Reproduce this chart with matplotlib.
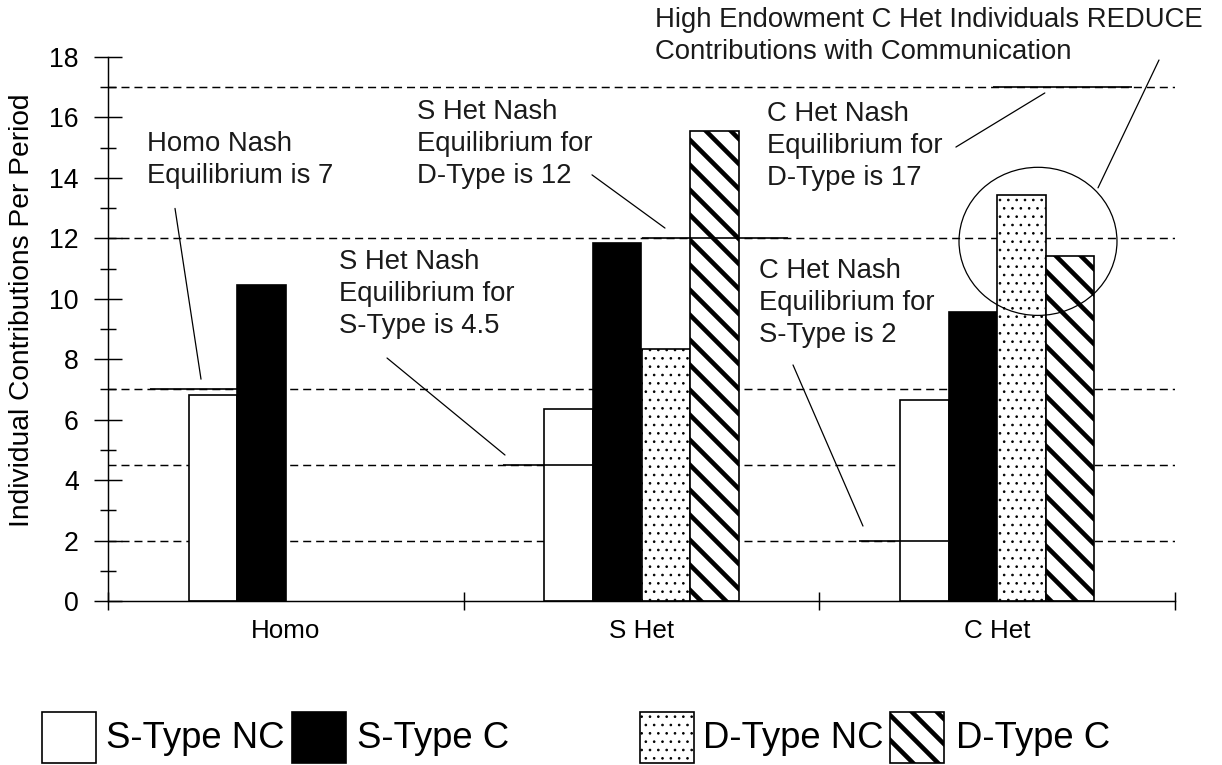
import matplotlib
matplotlib.use("Agg")
import matplotlib.pyplot as plt
from matplotlib.patches import Rectangle, Ellipse
import numpy as np

# ---------------- data ----------------
categories = ["Homo", "S Het", "C Het"]
series_labels = ["S-Type NC", "S-Type C", "D-Type NC", "D-Type C"]
s_type_nc = [6.8, 6.35, 6.65]
s_type_c = [10.45, 11.85, 9.55]
d_type_nc = [np.nan, 8.35, 13.45]
d_type_c = [np.nan, 15.55, 11.4]
nash_levels = [2, 4.5, 7, 12, 17]
y_ticks = list(range(0, 19, 2))
y_label = "Individual Contributions Per Period"

notes = [
    "Homo Nash\nEquilibrium is 7",
    "S Het Nash\nEquilibrium for\nS-Type is 4.5",
    "S Het Nash\nEquilibrium for\nD-Type is 12",
    "C Het Nash\nEquilibrium for\nS-Type is 2",
    "C Het Nash\nEquilibrium for\nD-Type is 17",
    "High Endowment C Het Individuals REDUCE\nContributions with Communication",
]
# Nash value each solid marker segment belongs to
note_levels = [7, 4.5, 12, 2, 17]

# ---------------- layout / style ----------------
W, H, DPI = 1222, 765, 150
plt.rcParams["font.family"] = ["Liberation Sans", "DejaVu Sans"]
plt.rcParams["hatch.color"] = "black"

fig = plt.figure(figsize=(W / DPI, H / DPI), dpi=DPI)
ax = fig.add_axes([108 / W, 1 - 601 / H, 1067 / W, 544 / H])

series = [s_type_nc, s_type_c, d_type_nc, d_type_c]
styles = [
    dict(facecolor="white", hatch=None, hlw=1.0),
    dict(facecolor="black", hatch=None, hlw=1.0),
    dict(facecolor="white", hatch="...", hlw=0.45),
    dict(facecolor="white", hatch="\\\\", hlw=2.2),
]
bw = 0.1364
xc = np.arange(len(categories))
offsets = [-1.5 * bw, -0.5 * bw, 0.5 * bw, 1.5 * bw]


def make_patch_style(p, st):
    if st["hatch"]:
        p.set_hatch(st["hatch"])
        if hasattr(p, "set_hatch_linewidth"):
            p.set_hatch_linewidth(st["hlw"])


for vals, off, st in zip(series, offsets, styles):
    with plt.rc_context({"hatch.linewidth": st["hlw"]}):
        bars = ax.bar(xc + off, vals, width=bw, facecolor=st["facecolor"],
                      edgecolor="black", linewidth=0.8, zorder=2)
        for p in bars:
            make_patch_style(p, st)

# dashed Nash reference lines
for lv in nash_levels:
    ax.axhline(lv, color="black", lw=0.7, dashes=(5.5, 3.4), zorder=1)

# solid Nash segments (x extents are layout)
seg_x = [(-0.382, -0.1345), (0.611, 0.8636), (1.0014, 1.412),
         (1.6115, 1.8617), (1.988, 2.379)]
for lv, (x0, x1) in zip(note_levels, seg_x):
    ax.plot([x0, x1], [lv, lv], color="black", lw=0.8, zorder=3,
            solid_capstyle="butt")

# annotation texts and leader lines
text_pos = [(-0.3903, 15.55), (0.1495, 11.64), (0.3688, 16.61),
            (1.3304, 11.34), (1.3529, 16.54), (1.038, 19.65)]
leaders = [((-0.3116, 12.99), (-0.2385, 7.34)),
           ((0.2845, 8.04), (0.6162, 4.83)),
           ((0.8608, 14.10), (1.066, 12.34)),
           ((1.426, 7.81), (1.6227, 2.48)),
           ((1.884, 15.02), (2.134, 16.81)),
           ((2.455, 17.90), (2.2835, 13.67))]
for txt, (tx, ty) in zip(notes, text_pos):
    ax.text(tx, ty, txt, ha="left", va="top", fontsize=13.2, color="#1a1a1a",
            linespacing=1.3, clip_on=False, zorder=4)
for (p0, p1) in leaders:
    ax.annotate("", xy=p1, xytext=p0, annotation_clip=False,
                arrowprops=dict(arrowstyle="-", lw=0.6, color="black",
                                shrinkA=0, shrinkB=0))

ax.add_patch(Ellipse((2.1148, 11.9), 0.4442, 4.9, fill=False,
                     edgecolor="black", lw=0.6, zorder=4, clip_on=False))

# axes
ax.set_xlim(-0.5, 2.5)
ax.set_ylim(0, 18)
for s in ["top", "right"]:
    ax.spines[s].set_visible(False)
for s in ["left", "bottom"]:
    ax.spines[s].set_linewidth(0.7)

ax.set_yticks(y_ticks)
ax.set_yticks([v for v in range(1, 18, 2)], minor=True)
ax.tick_params(axis="y", which="major", direction="inout", length=13,
               width=0.7, labelsize=12.8, pad=7.5)
ax.tick_params(axis="y", which="minor", direction="inout", length=8,
               width=0.7)

ax.set_xticks([-0.5, 0.5, 1.5, 2.5])
ax.set_xticklabels([])
ax.set_xticks(xc, minor=True)
ax.set_xticklabels(categories, minor=True)
ax.tick_params(axis="x", which="major", direction="inout", length=9,
               width=0.7)
ax.tick_params(axis="x", which="minor", length=0, labelsize=12.5, pad=8.5)

ax.set_ylabel(y_label, fontsize=13.5)
ax.yaxis.set_label_coords(-0.068, 0.535)

# legend (figure-level swatches)
box_x = [42, 292, 640, 890]
txt_x = [106, 357, 703, 956]
for lab, st, bx, tx in zip(series_labels, styles, box_x, txt_x):
    with plt.rc_context({"hatch.linewidth": st["hlw"]}):
        r = Rectangle((bx / W, 1 - 763 / H), 54 / W, 51 / H,
                      transform=fig.transFigure, facecolor=st["facecolor"],
                      edgecolor="black", linewidth=0.8)
        make_patch_style(r, st)
        fig.add_artist(r)
    fig.text(tx / W, 1 - 738 / H, lab, ha="left", va="center",
             fontsize=17.5, color="black")

fig.savefig("out.png", dpi=DPI, facecolor="white")
